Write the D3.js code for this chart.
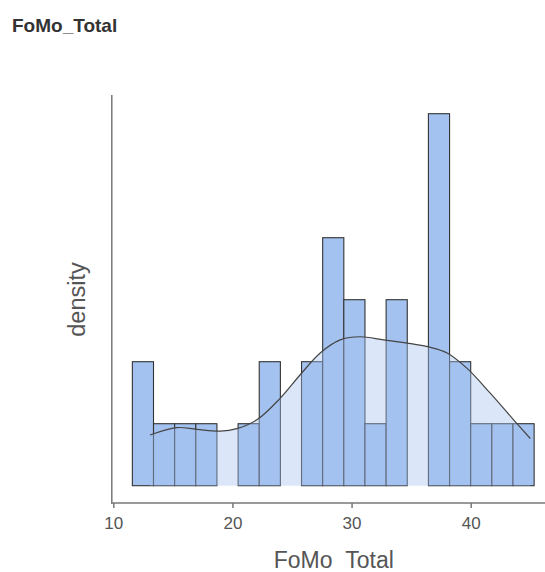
<!DOCTYPE html>
<html>
<head>
<meta charset="utf-8">
<script src="https://cdn.jsdelivr.net/npm/d3@7"></script>
<style>
  html, body { margin: 0; padding: 0; background: #fff; }
  svg { display: block; }
</style>
</head>
<body>
<svg id="chart" width="545" height="572"></svg>
<script>
// ---- data ----
const title = "FoMo_Total";
const xLabel = "FoMo_Total";
const yLabel = "density";
const binStart = 11.6;
const binWidth = 1.775;
const binCounts = [2, 1, 1, 1, 0, 1, 2, 0, 2, 4, 3, 1, 3, 0, 6, 2, 1, 1, 1];
const xTicks = [10, 20, 30, 40];
const densityX = [13.08, 15.33, 17.0, 18.97, 20.37, 22.05, 24.0, 25.69, 27.37, 29.05, 30.73, 32.69, 34.65, 36.47, 38.02, 39.7, 41.66, 43.6, 45.0];
const densityY = [0.0144, 0.0165, 0.0160, 0.0155, 0.0162, 0.0187, 0.0248, 0.0315, 0.0377, 0.0414, 0.0423, 0.0414, 0.0405, 0.0394, 0.0377, 0.0333, 0.0262, 0.0187, 0.0134];

// ---- layout ----
const svg = d3.select("#chart");
const n = d3.sum(binCounts);
const bins = binCounts.map((c, i) => ({
  x0: binStart + i * binWidth,
  x1: binStart + (i + 1) * binWidth,
  d: c / (n * binWidth)
}));

const x = d3.scaleLinear().domain([10, 40]).range([113.3, 470.7]);
const y = d3.scaleLinear().domain([0, 0.11]).range([485.7, 485.7 - 0.11 * n * binWidth * 62]);

const barColor = "#a4c2ef";
const ink = "#333333";
const font = "Liberation Sans, Arial, sans-serif";

// clip for the x label (bottom edge of the panel cuts the underscore)
svg.append("defs").append("clipPath").attr("id", "labclip")
  .append("rect").attr("x", 0).attr("y", 530).attr("width", 545).attr("height", 39.5);

// title
svg.append("text")
  .attr("x", 12).attr("y", 32)
  .attr("font-family", font)
  .attr("font-weight", "bold")
  .attr("font-size", 19)
  .attr("fill", "#333")
  .text(title);

// bars
svg.append("g").selectAll("rect").data(bins).join("rect")
  .filter(b => b.d > 0)
  .attr("x", b => x(b.x0))
  .attr("y", b => y(b.d))
  .attr("width", b => x(b.x1) - x(b.x0))
  .attr("height", b => y(0) - y(b.d))
  .attr("fill", barColor)
  .attr("stroke", ink)
  .attr("stroke-width", 1.1);

// density
const pts = densityX.map((v, i) => [v, densityY[i]]);
const area = d3.area()
  .x(p => x(p[0])).y0(y(0)).y1(p => y(p[1]))
  .curve(d3.curveCatmullRom);
const line = d3.line()
  .x(p => x(p[0])).y(p => y(p[1]))
  .curve(d3.curveCatmullRom);

svg.append("path").attr("d", area(pts))
  .attr("fill", barColor).attr("fill-opacity", 0.4);
svg.append("path").attr("d", line(pts))
  .attr("fill", "none").attr("stroke", "#444").attr("stroke-width", 1.2);

// axes
const axisColor = "#777";
svg.append("line")
  .attr("x1", 111.8).attr("x2", 111.8).attr("y1", 95).attr("y2", 503.5)
  .attr("stroke", axisColor).attr("stroke-width", 1.5);
svg.append("line")
  .attr("x1", 111).attr("x2", 545).attr("y1", 503).attr("y2", 503)
  .attr("stroke", axisColor).attr("stroke-width", 1.5);

const xAxis = d3.axisBottom(x).tickValues(xTicks).tickSize(5).tickPadding(9).tickFormat(d3.format("d"));
const gx = svg.append("g").attr("transform", "translate(0,503)").call(xAxis);
gx.select(".domain").remove();
gx.selectAll(".tick line").attr("stroke", axisColor).attr("stroke-width", 1.5);
gx.selectAll(".tick text")
  .attr("fill", "#555")
  .attr("font-family", font)
  .attr("font-size", 17);

// axis labels
svg.append("text")
  .attr("x", 333.8).attr("y", 568)
  .attr("text-anchor", "middle")
  .attr("font-family", font)
  .attr("font-size", 23)
  .attr("fill", "#555")
  .attr("clip-path", "url(#labclip)")
  .text(xLabel);

svg.append("text")
  .attr("transform", "translate(85,299.5) rotate(-90)")
  .attr("text-anchor", "middle")
  .attr("font-family", font)
  .attr("font-size", 23.5)
  .attr("fill", "#555")
  .text(yLabel);
</script>
</body>
</html>
